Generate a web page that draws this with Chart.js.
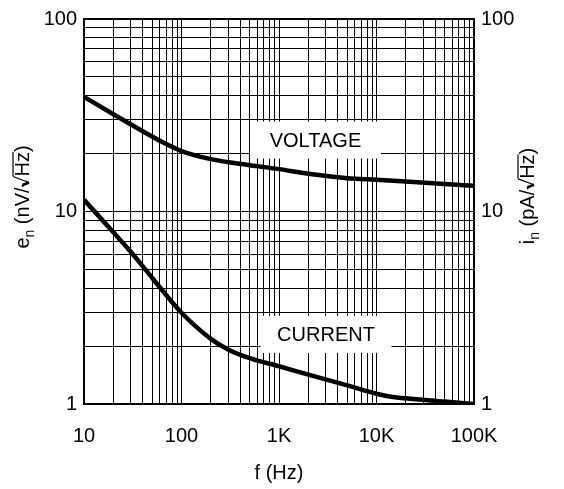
<!DOCTYPE html>
<html>
<head>
<meta charset="utf-8">
<script src="https://cdn.jsdelivr.net/npm/chart.js@4"></script>
<style>
  html, body { margin: 0; padding: 0; background: #fff; }
  #wrap { width: 564px; height: 489px; position: relative; }
</style>
</head>
<body>
<div id="wrap"><canvas id="c" width="564" height="489"></canvas></div>
<script>
// ---- data ----
const voltageFreqs = [10, 20, 30, 50, 65, 100, 200, 500, 1000, 2000, 5000, 10000, 20000, 50000, 100000];
const voltageNoise = [39.4, 32.0, 28.4, 24.5, 22.8, 20.6, 18.7, 17.4, 16.6, 15.7, 14.9, 14.6, 14.3, 13.9, 13.6];
const currentFreqs = [10, 20, 30, 44, 65, 100, 200, 300, 500, 1000, 2000, 5000, 10000, 14000, 20000, 50000, 100000];
const currentNoise = [11.5, 7.8, 6.2, 4.9, 3.84, 2.98, 2.18, 1.92, 1.73, 1.57, 1.42, 1.25, 1.13, 1.09, 1.07, 1.03, 1.0];

const xDecades = [10, 100, 1000, 10000, 100000];
const xTickLabels = ['10', '100', '1K', '10K', '100K'];
const yDecades = [1, 10, 100];
const yTickLabels = ['1', '10', '100'];

const curveLabels = ['VOLTAGE', 'CURRENT'];
const curveLabelFreq = [2366, 3034];
const curveLabelValue = [23.5, 2.30];

const FONT = '"Liberation Sans", Arial, Helvetica, sans-serif';

function gridValues(decades) {
  const out = [];
  for (let i = 0; i < decades.length; i++) {
    if (i === decades.length - 1) { out.push(decades[i]); break; }
    for (let m = 1; m <= 9; m++) out.push(decades[i] * m);
  }
  return out;
}
const xGrid = gridValues(xDecades);
const yGrid = gridValues(yDecades);

function labelFor(values, labels) {
  return function (v) {
    for (let i = 0; i < values.length; i++) {
      if (Math.abs(v - values[i]) < values[i] * 1e-6) return labels[i];
    }
    return '';
  };
}

const pairs = (xs, ys) => xs.map((x, i) => ({ x: x, y: ys[i] }));

// draw a unit title like  e_n (nV/√Hz)  rotated -90°
function drawUnitTitle(ctx, baseX, centerY, letter, sub, unit) {
  const big = 20, small = 14;
  ctx.save();
  ctx.translate(baseX, centerY);
  ctx.rotate(-Math.PI / 2);
  ctx.fillStyle = '#000';
  ctx.strokeStyle = '#000';
  ctx.textBaseline = 'alphabetic';
  ctx.textAlign = 'left';
  const pieces = [
    { t: letter, f: big, dy: 0 },
    { t: sub, f: small, dy: 5 },
    { t: ' (' + unit + '/', f: big, dy: 0 },
    { t: '√', f: big, dy: 0, root: true },
    { t: 'Hz', f: big, dy: 0, over: true },
    { t: ')', f: big, dy: 0 }
  ];
  let total = 0;
  pieces.forEach(p => { ctx.font = p.f + 'px ' + FONT; p.w = ctx.measureText(p.t).width; total += p.w; });
  let x = -total / 2;
  let rootStart = 0;
  pieces.forEach(p => {
    ctx.font = p.f + 'px ' + FONT;
    if (p.root) {
      const h = 16;
      ctx.lineWidth = 1.2;
      ctx.beginPath();
      ctx.moveTo(x + 0.5, -6);
      ctx.lineTo(x + 2.5, -7);
      ctx.stroke();
      ctx.lineWidth = 2.8;
      ctx.beginPath();
      ctx.moveTo(x + 2.5, -6.5);
      ctx.lineTo(x + 5, 0);
      ctx.stroke();
      ctx.lineWidth = 1.2;
      ctx.beginPath();
      ctx.moveTo(x + 5, 0);
      ctx.lineTo(x + p.w, -h);
      ctx.stroke();
      rootStart = x + p.w;
    } else {
      ctx.fillText(p.t, x, p.dy);
    }
    if (p.over) {
      ctx.lineWidth = 1.2;
      ctx.beginPath();
      ctx.moveTo(rootStart, -16);
      ctx.lineTo(x + p.w, -16);
      ctx.stroke();
    }
    x += p.w;
  });
  ctx.restore();
}

const decorPlugin = {
  id: 'decor',
  beforeDatasetsDraw(chart) {
    const ctx = chart.ctx;
    const xs = chart.scales.x, ys = chart.scales.y;
    ctx.save();
    for (let i = 0; i < curveLabels.length; i++) {
      const cx = xs.getPixelForValue(curveLabelFreq[i]);
      const cy = ys.getPixelForValue(curveLabelValue[i]);
      ctx.fillStyle = '#fff';
      ctx.fillRect(cx - 65.5, cy - 18.5, 131, 37);
      ctx.fillStyle = '#000';
      ctx.font = '20px ' + FONT;
      ctx.textAlign = 'center';
      ctx.textBaseline = 'middle';
      ctx.fillText(curveLabels[i], cx, cy + 1);
    }
    ctx.restore();
  },
  afterDraw(chart) {
    const ctx = chart.ctx;
    const a = chart.chartArea;
    ctx.save();
    ctx.strokeStyle = '#000';
    ctx.lineWidth = 2;
    ctx.strokeRect(a.left, a.top, a.right - a.left, a.bottom - a.top);
    ctx.fillStyle = '#000';
    ctx.font = '20px ' + FONT;
    ctx.textAlign = 'center';
    ctx.textBaseline = 'middle';
    ctx.fillText('f (Hz)', (a.left + a.right) / 2, 473);
    drawUnitTitle(ctx, 29, 197, 'e', 'n', 'nV');
    drawUnitTitle(ctx, 534, 196, 'i', 'n', 'pA');
    ctx.restore();
  }
};

new Chart(document.getElementById('c'), {
  type: 'line',
  data: {
    datasets: [
      { label: 'Voltage', data: pairs(voltageFreqs, voltageNoise), yAxisID: 'y' },
      { label: 'Current', data: pairs(currentFreqs, currentNoise), yAxisID: 'y2' }
    ]
  },
  options: {
    responsive: false,
    animation: false,
    devicePixelRatio: 1,
    layout: { padding: { top: 14, left: 0, right: 0, bottom: 0 } },
    elements: {
      line: { borderColor: '#000', borderWidth: 4.5, fill: false, cubicInterpolationMode: 'monotone', borderJoinStyle: 'round' },
      point: { radius: 0, hoverRadius: 0 }
    },
    plugins: { legend: { display: false }, tooltip: { enabled: false } },
    scales: {
      x: {
        type: 'logarithmic', position: 'bottom', min: 10, max: 100000,
        afterBuildTicks: s => { s.ticks = xGrid.map(v => ({ value: v })); },
        afterFit: s => { s.height = 85; },
        grid: { color: '#000', lineWidth: 1, drawTicks: false },
        border: { display: false },
        ticks: { autoSkip: false, maxRotation: 0, padding: 20, color: '#000',
                 font: { family: FONT, size: 20 }, callback: labelFor(xDecades, xTickLabels) }
      },
      y: {
        type: 'logarithmic', position: 'left', min: 1, max: 100,
        afterBuildTicks: s => { s.ticks = yGrid.map(v => ({ value: v })); },
        afterFit: s => { s.width = 84; },
        grid: { color: '#000', lineWidth: 1, drawTicks: false },
        border: { display: false },
        ticks: { autoSkip: false, padding: 7, color: '#000',
                 font: { family: FONT, size: 20 }, callback: labelFor(yDecades, yTickLabels) }
      },
      y2: {
        type: 'logarithmic', position: 'right', min: 1, max: 100,
        afterBuildTicks: s => { s.ticks = yGrid.map(v => ({ value: v })); },
        afterFit: s => { s.width = 90; },
        grid: { display: false, drawTicks: false },
        border: { display: false },
        ticks: { autoSkip: false, padding: 7, color: '#000',
                 font: { family: FONT, size: 20 }, callback: labelFor(yDecades, yTickLabels) }
      }
    }
  },
  plugins: [decorPlugin]
});
</script>
</body>
</html>
